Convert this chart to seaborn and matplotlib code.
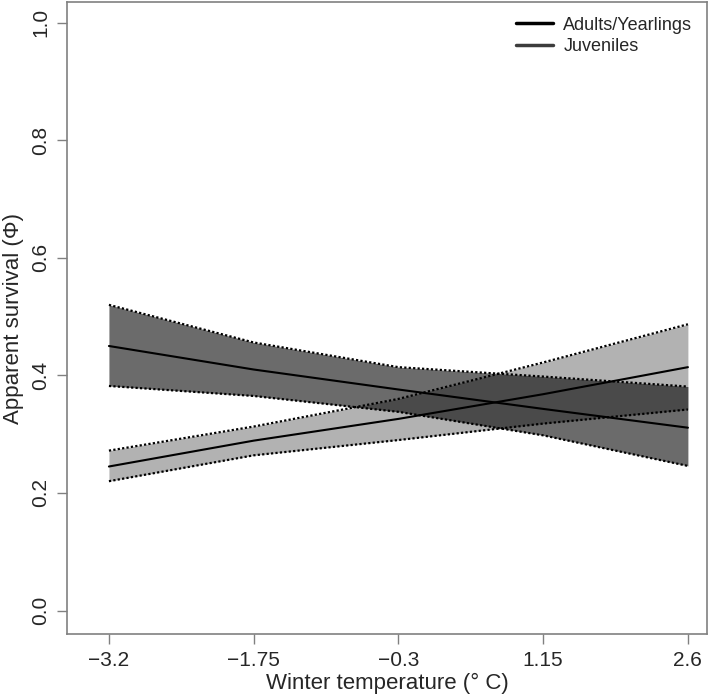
import numpy as np
import pandas as pd
import seaborn as sns
import matplotlib.pyplot as plt
from matplotlib.lines import Line2D

temp = [-3.2, -1.75, -0.3, 1.15, 2.6]
adult = [0.450, 0.410, 0.376, 0.343, 0.311]
adult_lo = [0.382, 0.365, 0.338, 0.298, 0.246]
adult_hi = [0.520, 0.456, 0.414, 0.398, 0.381]
juv = [0.245, 0.289, 0.326, 0.368, 0.414]
juv_lo = [0.220, 0.264, 0.290, 0.318, 0.342]
juv_hi = [0.272, 0.313, 0.360, 0.422, 0.487]
xticks = [-3.2, -1.75, -0.3, 1.15, 2.6]
xticklabels = ['\u22123.2', '\u22121.75', '\u22120.3', '1.15', '2.6']
yticks = [0.0, 0.2, 0.4, 0.6, 0.8, 1.0]

df = pd.DataFrame({'temp': temp * 2,
                   'phi': adult + juv,
                   'group': ['Adults/Yearlings'] * 5 + ['Juveniles'] * 5})

sns.set_style("ticks")
plt.rcParams['font.family'] = ['Liberation Sans', 'DejaVu Sans']
fig = plt.figure(figsize=(7.09, 6.96), dpi=100)
ax = fig.add_axes([0.0945, 0.089, 0.9025, 0.908])

ax.fill_between(temp, adult_lo, adult_hi, color='black', alpha=0.58, linewidth=0)
ax.fill_between(temp, juv_lo, juv_hi, color='black', alpha=0.30, linewidth=0)
for band in [adult_lo, adult_hi, juv_lo, juv_hi]:
    ax.plot(temp, band, color='black', linestyle=(0, (1, 1)), linewidth=1.6)
sns.lineplot(data=df, x='temp', y='phi', hue='group', palette=['black', 'black'],
             linewidth=1.5, legend=False, ax=ax)

ax.set_xlim(-3.62, 2.79)
ax.set_ylim(-0.04, 1.035)
ax.set_xticks(xticks)
ax.set_xticklabels(xticklabels)
ax.set_yticks(yticks)
ax.set_yticklabels([f'{v:.1f}' for v in yticks], rotation=90, va='center')
ax.tick_params(axis='both', length=7, width=1, color='#808080', labelsize=15, pad=5)
for s in ax.spines.values():
    s.set_visible(True)
    s.set_color('#808080')
    s.set_linewidth(1.2)
ax.set_xlabel('Winter temperature (\u00b0 C)', fontsize=16, labelpad=2)
ax.set_ylabel('Apparent survival (\u03a6)', fontsize=16, labelpad=5)

handles = [Line2D([], [], color='black', linewidth=2.5),
           Line2D([], [], color='#3c3c3c', linewidth=2.5)]
ax.legend(handles, ['Adults/Yearlings', 'Juveniles'], loc='upper right', frameon=False,
          fontsize=13, handlelength=2.0, handletextpad=0.6, labelspacing=0.25,
          borderaxespad=0.4)

fig.savefig('out.png', dpi=100)
